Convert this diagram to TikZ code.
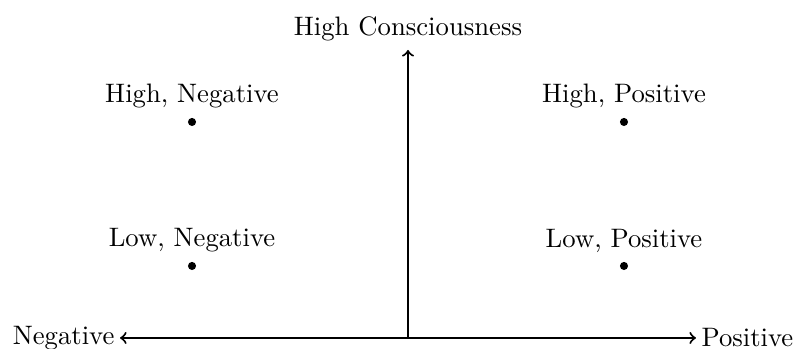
\documentclass[tikz,border=0pt]{standalone}
\begin{document}
\begin{tikzpicture}[every node/.style={font=\fontsize{10.55}{13}\selectfont}]
\tikzset{axis/.style={thick,->},dotmark/.style={circle,fill=black,inner sep=0pt,minimum size=3.2pt,font=}}
\useasboundingbox (-5.667,-0.153) rectangle (5.417,4.694);
\coordinate (o) at (0,0);
\node[anchor=east,inner sep=2pt] (neg) at (-4,0) {Negative};
\node[anchor=west,inner sep=2pt] (pos) at (4,0) {Positive};
\node[anchor=south] (hc) at (0,4) {High Consciousness};
\draw[thick,<->] (neg.east) -- (pos.west);
\draw[axis] (o) -- (hc.south);
\node[dotmark] (hn) at (-3,3) {};
\node[dotmark] (hp) at (3,3) {};
\node[dotmark] (ln) at (-3,1) {};
\node[dotmark] (lp) at (3,1) {};
\node[above=0pt] (hnl) at (hn.north) {High, Negative};
\node[above=0pt] (hpl) at (hp.north) {High, Positive};
\node[above=0pt] (lnl) at (ln.north) {Low, Negative};
\node[above=0pt] (lpl) at (lp.north) {Low, Positive};
\end{tikzpicture}
\end{document}
